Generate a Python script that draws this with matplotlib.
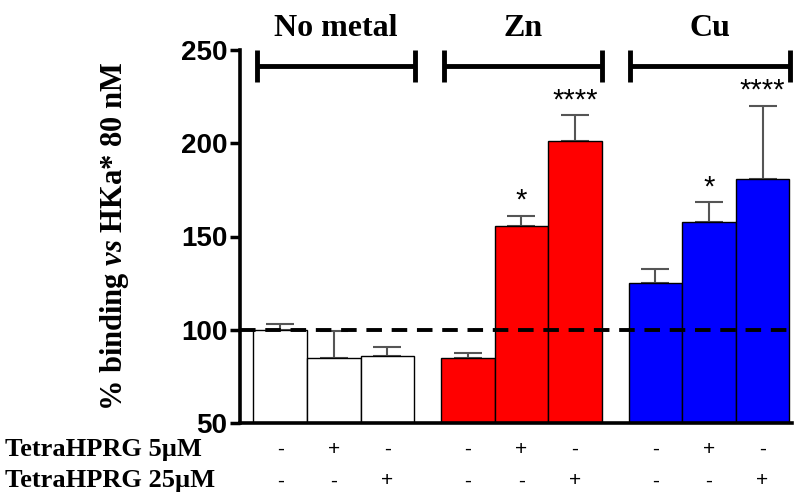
import numpy as np
import matplotlib.pyplot as plt

# values
groups = ['No metal', 'Zn', 'Cu']
means = [100, 85, 86, 85, 155.5, 201, 125, 158, 181]
errs = [3, 14.5, 5, 2.7, 5.5, 14, 7.6, 10.5, 39]
colors = ['white'] * 3 + ['#ff0000'] * 3 + ['#0000ff'] * 3
stars = ['', '', '', '', '*', '****', '', '*', '****']
row5 = ['-', '+', '-'] * 3
row25 = ['-', '-', '+'] * 3
row_labels = ['TetraHPRG 5µM', 'TetraHPRG 25µM']

serif = 'Liberation Serif'
sans = 'Liberation Sans'
plt.rcParams['mathtext.fontset'] = 'custom'
plt.rcParams['mathtext.it'] = 'Liberation Serif:italic:bold'

fig = plt.figure(figsize=(7.95, 4.92), dpi=100)
ax = fig.add_axes([240 / 795, 69 / 492, 552 / 795, 373 / 492])

x = np.array([g * 3.5 + i + 0.75 for g in range(3) for i in range(3)])
ax.bar(x, means, width=1.0, bottom=0, color=colors, edgecolor='black', linewidth=1.0, zorder=2)
ax.errorbar(x, means, yerr=[np.zeros(len(errs)), errs], fmt='none', ecolor='#555555',
            elinewidth=1.5, capsize=10, capthick=1.5, zorder=1)

for xi, m, e, s in zip(x, means, errs, stars):
    if s:
        ax.text(xi, m + e + 0.5, s, ha='center', va='bottom', fontsize=21, family=sans)

ax.axhline(100, color='black', linestyle=(0, (4, 2.5)), linewidth=2.8, zorder=3)

ax.set_xlim(0, 10.3)
ax.set_ylim(50, 250)
ax.set_yticks([50, 100, 150, 200, 250])
ax.set_xticks([])
for lab in ax.get_yticklabels():
    lab.set_family(sans)
    lab.set_fontweight('bold')
    lab.set_fontsize(20)
ax.tick_params(axis='y', length=7, width=2.5, pad=2)
for sp in ['top', 'right']:
    ax.spines[sp].set_visible(False)
for sp in ['left', 'bottom']:
    ax.spines[sp].set_linewidth(2.6)

ax.set_ylabel('% binding $\\mathit{vs}$ HKa* 80 nM', family=serif, fontweight='bold',
              fontsize=22, labelpad=36)

# group brackets above the bars
spans = [(0.32, 3.27), (3.8, 6.76), (7.27, 10.26)]
for (a, b), name in zip(spans, groups):
    ax.plot([a, b], [241.5, 241.5], color='black', linewidth=3.5, clip_on=False, solid_capstyle='butt')
    for e in (a, b):
        ax.plot([e, e], [233, 250], color='black', linewidth=3.5, clip_on=False, solid_capstyle='butt')
    ax.text((a + b) / 2, 254, name, ha='center', va='bottom', family=serif,
            fontweight='bold', fontsize=23, clip_on=False)

# condition table below the axis
trans = ax.get_xaxis_transform()
for yrow, signs, lab in zip([-0.07, -0.155], [row5, row25], row_labels):
    fig.text(5 / 795, ax.get_position().y0 + yrow * ax.get_position().height, lab,
             ha='left', va='center', family=serif, fontweight='bold', fontsize=19)
    for xi, s in zip(x, signs):
        ax.text(xi, yrow, s, transform=trans, ha='center', va='center',
                family=sans, fontsize=15, clip_on=False)

fig.savefig('out.png', dpi=100)
